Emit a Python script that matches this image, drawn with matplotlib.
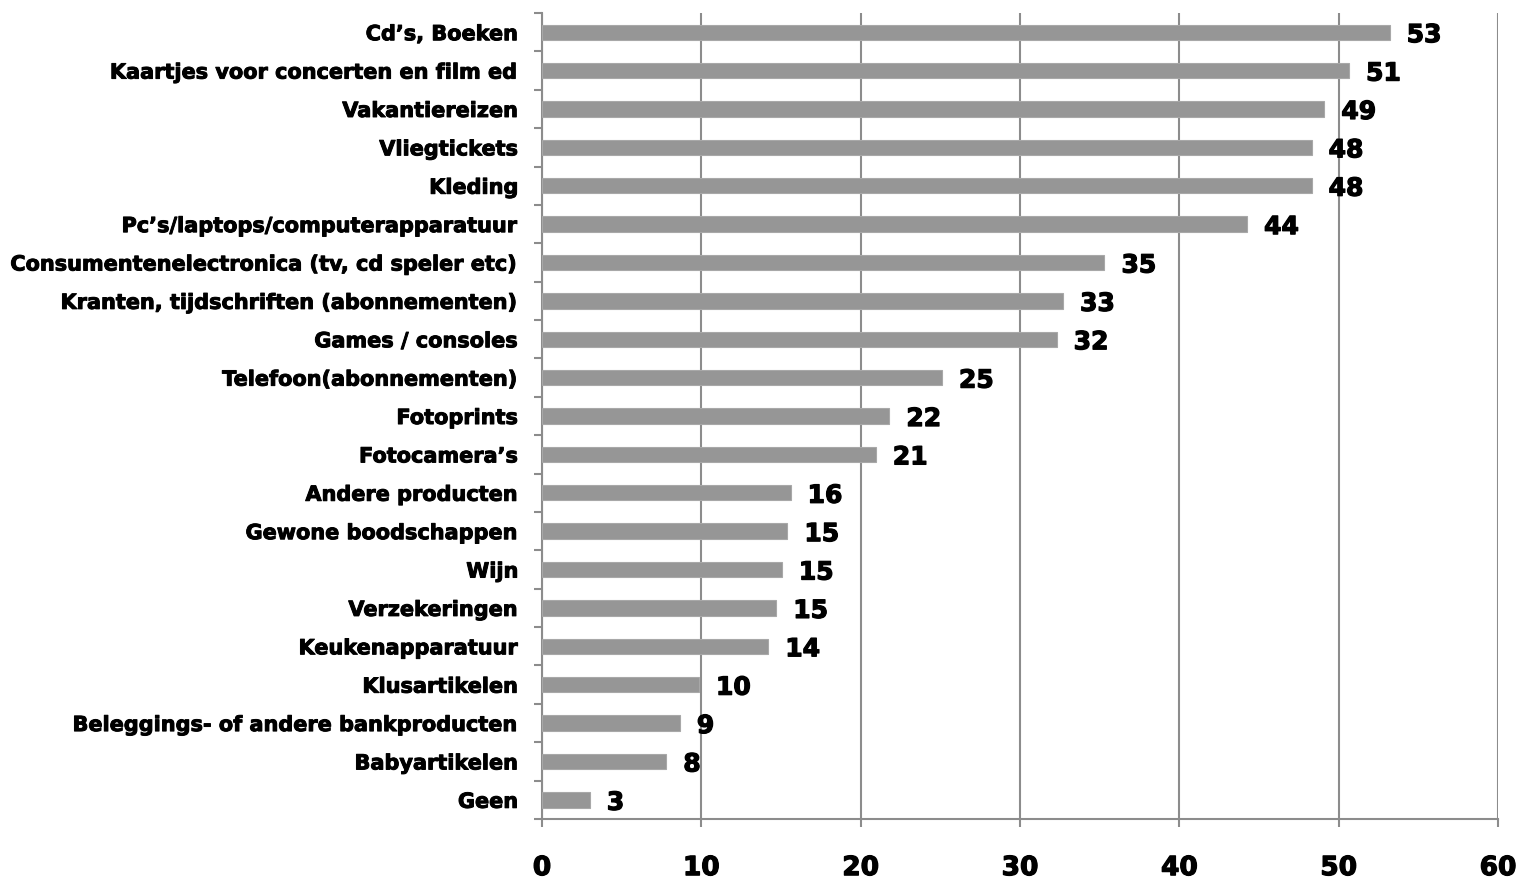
import matplotlib.pyplot as plt
import matplotlib.patheffects as pe
import numpy as np
from matplotlib.ticker import FixedLocator

categories = [
  "Cd’s, Boeken",
  "Kaartjes voor concerten en film ed",
  "Vakantiereizen",
  "Vliegtickets",
  "Kleding",
  "Pc’s/laptops/computerapparatuur",
  "Consumentenelectronica (tv, cd speler etc)",
  "Kranten, tijdschriften (abonnementen)",
  "Games / consoles",
  "Telefoon(abonnementen)",
  "Fotoprints",
  "Fotocamera’s",
  "Andere producten",
  "Gewone boodschappen",
  "Wijn",
  "Verzekeringen",
  "Keukenapparatuur",
  "Klusartikelen",
  "Beleggings- of andere bankproducten",
  "Babyartikelen",
  "Geen",
]
values = [53.2, 50.65, 49.1, 48.3, 48.3, 44.25, 35.3, 32.7, 32.3, 25.1, 21.8,
          20.95, 15.6, 15.4, 15.05, 14.7, 14.2, 9.85, 8.65, 7.8, 3.0]
labels = ["53", "51", "49", "48", "48", "44", "35", "33", "32", "25", "22",
          "21", "16", "15", "15", "15", "14", "10", "9", "8", "3"]
x_ticks = [0, 10, 20, 30, 40, 50, 60]

FONT = "DejaVu Sans"
GRAY = "#8c8c8c"
heavy = [pe.withStroke(linewidth=0.9, foreground="black")]

fig = plt.figure(figsize=(15.17, 8.8), dpi=100)
ax = fig.add_axes([0.3573, 0.0693, 0.6302, 0.9159])

n = len(categories)
y = np.arange(n)[::-1]
ax.barh(y, values, height=0.4, color="#969696", edgecolor="#a8a8a8", linewidth=0.8, zorder=3)

for yi, v, lab in zip(y, values, labels):
  ax.annotate(lab, (v, yi), xytext=(17, -3), textcoords="offset pixels",
              ha="left", va="center", fontsize=18, fontweight="bold", family=FONT,
              path_effects=heavy)

ax.set_xlim(0, 60)
ax.set_ylim(-0.5, n - 0.5)
ax.set_xticks(x_ticks)
ax.set_xticklabels([str(t) for t in x_ticks], fontsize=19, fontweight="bold", family=FONT,
                   path_effects=heavy)
ax.set_yticks(y)
ax.set_yticklabels(categories, fontsize=15, fontweight="bold", family=FONT,
                   path_effects=[pe.withStroke(linewidth=0.7, foreground="black")])
ax.tick_params(axis="y", length=0, pad=17)
ax.yaxis.set_minor_locator(FixedLocator(np.arange(-0.5, n, 1.0)))
ax.tick_params(axis="y", which="minor", length=6, width=1.5, color=GRAY)
ax.tick_params(axis="x", length=6, width=1.5, color=GRAY, pad=20)

ax.grid(axis="x", color=GRAY, linewidth=1.5, zorder=0)
for side in ["top", "right"]:
  ax.spines[side].set_visible(False)
for side in ["left", "bottom"]:
  ax.spines[side].set_color(GRAY)
  ax.spines[side].set_linewidth(1.5)

fig.savefig("out.png", dpi=100)
